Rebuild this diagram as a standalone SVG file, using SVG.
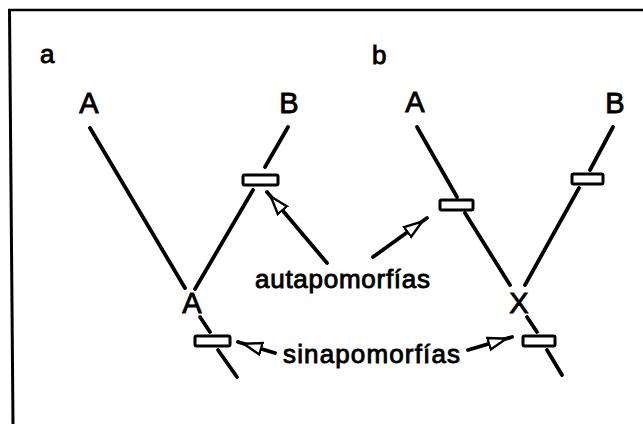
<svg xmlns="http://www.w3.org/2000/svg" width="643" height="424" viewBox="0 0 643 424">
<style>
.ln{stroke:#000;stroke-width:3.8;stroke-linecap:round;fill:none}
.box{fill:#fff;stroke:#000;stroke-width:3}
.lbl{font-family:"Liberation Sans",Arial,sans-serif;font-size:29px;fill:#000;stroke:#000;stroke-width:0.9;text-anchor:middle}
.sm{font-family:"Liberation Sans",Arial,sans-serif;font-size:26px;fill:#000;stroke:#000;stroke-width:0.9}
.arr{stroke:#000;stroke-width:3.8;stroke-linecap:round;fill:none;marker-end:url(#ah)}
</style>
<defs>
<marker id="ah" markerUnits="userSpaceOnUse" markerWidth="34" markerHeight="18" refX="25" refY="9" orient="auto" viewBox="0 0 34 18">
<path d="M1,3 L19,9 L1,15 Z" fill="#fff" stroke="#000" stroke-width="2.4" stroke-linejoin="miter"/>
</marker>
</defs>
<rect width="643" height="424" fill="#fff"/>
<g id="frame">
<line x1="8" y1="10" x2="643" y2="10" stroke="#000" stroke-width="2.5"/>
<line x1="9.5" y1="10" x2="13" y2="424" stroke="#000" stroke-width="3"/>
</g>
<g id="panel-a-label"><text class="sm" x="40" y="63">a</text></g>
<g id="panel-b-label"><text class="sm" x="372" y="64">b</text></g>
<g id="a-leafA"><text class="lbl" x="89" y="113">A</text></g>
<g id="a-leafB"><text class="lbl" x="289" y="113">B</text></g>
<g id="a-node"><text class="lbl" x="192" y="313">A</text></g>
<g id="b-leafA"><text class="lbl" x="415" y="112">A</text></g>
<g id="b-leafB"><text class="lbl" x="615" y="113">B</text></g>
<g id="b-node"><text class="lbl" x="519" y="313">X</text></g>
<g id="a-boxB"><rect class="box" x="243" y="175" width="35" height="10" rx="1.5"/></g>
<g id="a-boxRoot"><rect class="box" x="195" y="336" width="35" height="10" rx="1.5"/></g>
<g id="b-boxA"><rect class="box" x="440" y="200" width="33" height="10" rx="1.5"/></g>
<g id="b-boxB"><rect class="box" x="572" y="174" width="31" height="10" rx="1.5"/></g>
<g id="b-boxRoot"><rect class="box" x="523" y="336" width="32" height="10" rx="1.5"/></g>
<g id="label-autapomorfias"><text class="sm" x="255" y="288" textLength="175" lengthAdjust="spacing">autapomorfías</text></g>
<g id="label-sinapomorfias"><text class="sm" x="283" y="363" textLength="177" lengthAdjust="spacing">sinapomorfías</text></g>
<g id="connectors">
<line class="ln" x1="90" y1="128" x2="185" y2="288"/>
<line class="ln" x1="288" y1="127" x2="265" y2="167"/>
<line class="ln" x1="253" y1="190" x2="195" y2="289"/>
<line class="ln" x1="200" y1="317" x2="210" y2="332"/>
<line class="ln" x1="218" y1="350" x2="237" y2="377"/>
<line class="ln" x1="417" y1="127" x2="457" y2="197"/>
<line class="ln" x1="465" y1="213" x2="510" y2="285"/>
<line class="ln" x1="613" y1="127" x2="590" y2="170"/>
<line class="ln" x1="579" y1="188" x2="525" y2="285"/>
<line class="ln" x1="527" y1="317" x2="537" y2="332"/>
<line class="ln" x1="547" y1="350" x2="562" y2="375"/>
<line class="arr" x1="327" y1="263" x2="267" y2="192"/>
<line class="arr" x1="373" y1="257" x2="427" y2="218"/>
<line class="arr" x1="275" y1="353" x2="238" y2="342"/>
<line class="arr" x1="468" y1="350" x2="512" y2="337"/>
</g>
</svg>
